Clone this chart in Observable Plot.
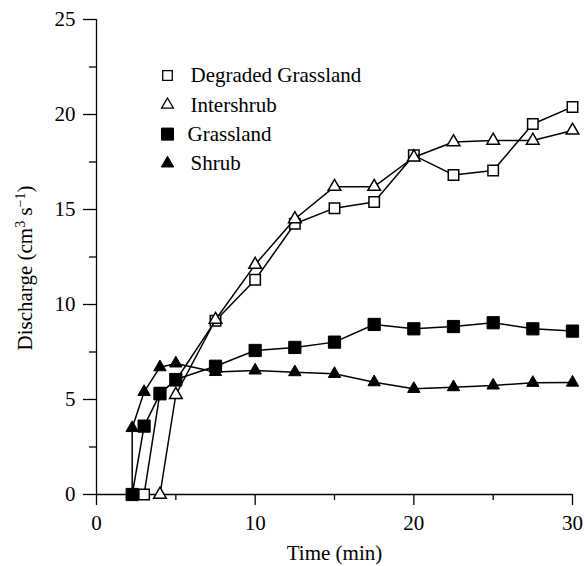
<!DOCTYPE html>
<html>
<head>
<meta charset="utf-8">
<script src="https://cdn.jsdelivr.net/npm/d3@7"></script>
<script src="https://cdn.jsdelivr.net/npm/@observablehq/plot@0.6"></script>
<style>
  html, body { margin: 0; padding: 0; background: white; }
  #chart svg, #chart svg text { font-family: "Liberation Serif", "Times New Roman", serif !important; }
</style>
</head>
<body>
<div id="chart"></div>
<script>
// ---- data ----
const seriesNames = ["Degraded Grassland", "Intershrub", "Grassland", "Shrub"];

const degradedTime = [3, 4, 5, 7.5, 10, 12.5, 15, 17.5, 20, 22.5, 25, 27.5, 30];
const degradedValue = [0, 5.35, 6.0, 9.15, 11.3, 14.25, 15.07, 15.4, 17.85, 16.82, 17.05, 19.5, 20.4];

const intershrubTime = [4, 5, 7.5, 10, 12.5, 15, 17.5, 20, 22.5, 25, 27.5, 30];
const intershrubValue = [0, 5.25, 9.2, 12.1, 14.5, 16.2, 16.2, 17.75, 18.55, 18.63, 18.63, 19.16];

const grasslandTime = [2.25, 3, 4, 5, 7.5, 10, 12.5, 15, 17.5, 20, 22.5, 25, 27.5, 30];
const grasslandValue = [0, 3.6, 5.3, 6.05, 6.75, 7.58, 7.74, 8.02, 8.95, 8.72, 8.84, 9.04, 8.72, 8.6];

const shrubTime = [2.25, 2.25, 3, 4, 5, 7.5, 10, 12.5, 15, 17.5, 20, 22.5, 25, 27.5, 30];
const shrubValue = [0, 3.5, 5.4, 6.7, 6.9, 6.45, 6.53, 6.44, 6.35, 5.91, 5.56, 5.65, 5.74, 5.88, 5.89];

const xMajorTicks = [0, 10, 20, 30];
const xMinorTicks = [5, 15, 25];
const yMajorTicks = [0, 5, 10, 15, 20, 25];
const yMinorTicks = [2.5, 7.5, 12.5, 17.5, 22.5];

// ---- styling per series ----
const styles = [
  {symbol: "square",   fill: "white", r: 5.9, lr: 5.4},
  {symbol: "triangle", fill: "white", r: 4.7, lr: 4.4},
  {symbol: "square",   fill: "black", r: 6.9, lr: 6.8},
  {symbol: "triangle", fill: "black", r: 4.6, lr: 4.6}
];

const FONT = "Liberation Serif";
const FS = 21;

const times = [degradedTime, intershrubTime, grasslandTime, shrubTime];
const values = [degradedValue, intershrubValue, grasslandValue, shrubValue];

const tables = seriesNames.map((name, s) =>
  times[s].map((t, i) => ({series: name, time: t, value: values[s][i]}))
);

const marks = [];

// axes
marks.push(Plot.ruleY([0], {stroke: "black", strokeWidth: 1.3}));
marks.push(Plot.ruleX([0], {stroke: "black", strokeWidth: 1.3}));
marks.push(Plot.axisX(xMajorTicks, {tickSize: 11, tickPadding: 10, strokeWidth: 1.3, label: null, fontSize: FS, fontFamily: FONT}));
marks.push(Plot.axisX(xMinorTicks, {tickSize: 6, strokeWidth: 1.3, label: null, tickFormat: () => ""}));
marks.push(Plot.axisY(yMajorTicks, {tickSize: 13, tickPadding: 8, strokeWidth: 1.3, label: null, fontSize: FS, fontFamily: FONT}));
marks.push(Plot.axisY(yMinorTicks, {tickSize: 7, strokeWidth: 1.3, label: null, tickFormat: () => ""}));

// series
tables.forEach((tbl, s) => {
  const st = styles[s];
  marks.push(Plot.line(tbl, {x: "time", y: "value", stroke: "black", strokeWidth: 1.5}));
  marks.push(Plot.dot(tbl, {x: "time", y: "value", symbol: () => st.symbol, r: st.r,
    fill: st.fill, stroke: "black", strokeWidth: st.fill === "white" ? 1.5 : 1}));
});

// legend (inside frame, top-left)
seriesNames.forEach((name, s) => {
  const st = styles[s];
  const dy = 56 + s * 29.3;
  marks.push(Plot.dot([name], {frameAnchor: "top-left", dx: 71, dy, symbol: () => st.symbol, r: st.lr,
    fill: st.fill, stroke: "black", strokeWidth: st.fill === "white" ? 1.3 : 1}));
  marks.push(Plot.text([name], {frameAnchor: "top-left", dx: s === 2 ? 91 : 94, dy, text: d => d,
    textAnchor: "start", lineAnchor: "middle", fontSize: FS, fontFamily: FONT, fill: "black"}));
});

// axis titles
marks.push(Plot.text(["Time (min)"], {frameAnchor: "bottom", dy: 59, text: d => d, fontSize: FS, fontFamily: FONT, lineAnchor: "middle", fill: "black"}));
marks.push(Plot.text(["Discharge (cm3 s-1)"], {frameAnchor: "left", dx: -71, rotate: -90, text: d => d, fontSize: FS, fontFamily: FONT, lineAnchor: "middle", fill: "black"}));

const chart = Plot.plot({
  width: 585,
  height: 566,
  marginLeft: 96,
  marginRight: 13,
  marginTop: 19,
  marginBottom: 72,
  x: {domain: [0, 30], label: null},
  y: {domain: [0, 25], label: null},
  symbol: {type: "identity"},
  style: {fontFamily: FONT, fontSize: FS + "px", background: "white", color: "black", overflow: "visible"},
  marks
});

document.getElementById("chart").appendChild(chart);

// superscripts in the y-axis title, re-centred after rewriting
d3.select(chart).selectAll("text").each(function() {
  const t = d3.select(this);
  if (t.text() === "Discharge (cm3 s-1)") {
    t.text(null);
    t.attr("text-anchor", "start");
    t.append("tspan").text("Discharge (cm");
    t.append("tspan").attr("baseline-shift", "7").attr("font-size", "14px").text("3");
    t.append("tspan").text(" s");
    t.append("tspan").attr("baseline-shift", "7").attr("font-size", "14px").text("\u22121");
    t.append("tspan").text(")");
    const len = this.getComputedTextLength();
    t.attr("x", -len / 2 - 11);
  }
});
</script>
</body>
</html>
